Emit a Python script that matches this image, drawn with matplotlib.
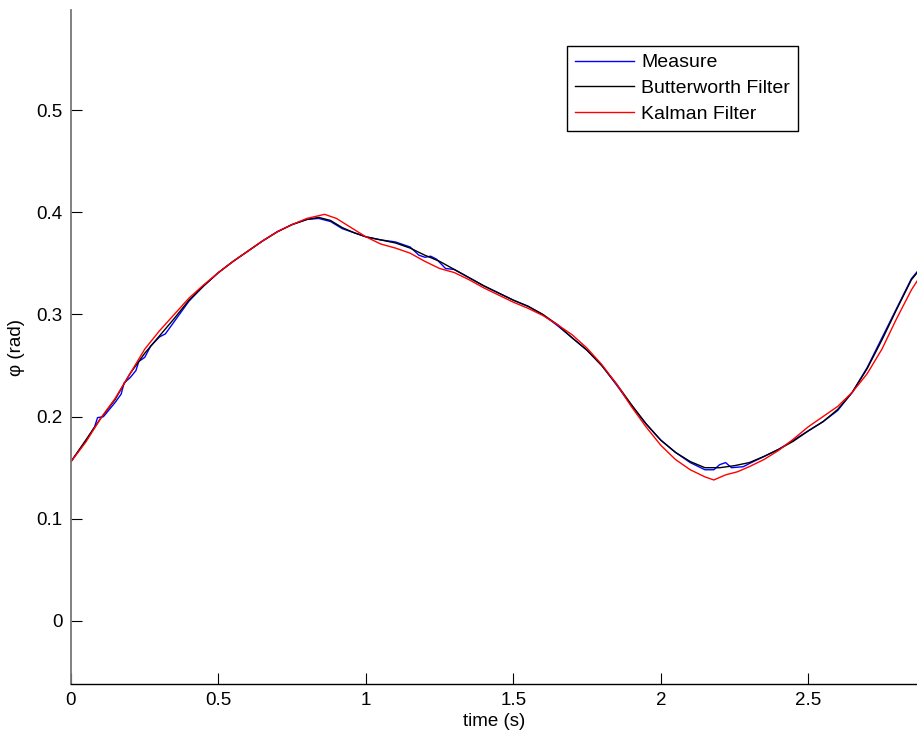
import matplotlib
matplotlib.use("Agg")
import matplotlib.pyplot as plt
import numpy as np

plt.rcParams["font.family"] = ["Liberation Sans", "DejaVu Sans"]

# Butterworth filter (black)
t_butter = [0.00, 0.05, 0.10, 0.15, 0.20, 0.25, 0.30, 0.35, 0.40, 0.45, 0.50, 0.55, 0.60, 0.65,
            0.70, 0.75, 0.80, 0.84, 0.88, 0.92, 0.96, 1.00, 1.05, 1.10, 1.15, 1.20, 1.25, 1.30,
            1.35, 1.40, 1.45, 1.50, 1.55, 1.60, 1.65, 1.70, 1.75, 1.80, 1.85, 1.90, 1.95, 2.00,
            2.05, 2.10, 2.15, 2.20, 2.25, 2.30, 2.35, 2.40, 2.45, 2.50, 2.55, 2.60, 2.65, 2.70,
            2.75, 2.80, 2.85, 2.87]
phi_butter = [0.156, 0.177, 0.198, 0.217, 0.242, 0.262, 0.279, 0.296, 0.314, 0.328, 0.341, 0.352,
              0.362, 0.372, 0.381, 0.388, 0.393, 0.395, 0.392, 0.385, 0.380, 0.376, 0.373, 0.370,
              0.365, 0.358, 0.352, 0.344, 0.336, 0.328, 0.321, 0.314, 0.308, 0.300, 0.290, 0.277,
              0.265, 0.250, 0.232, 0.212, 0.193, 0.177, 0.165, 0.156, 0.150, 0.150, 0.152, 0.155,
              0.161, 0.168, 0.176, 0.186, 0.195, 0.207, 0.224, 0.247, 0.275, 0.305, 0.334, 0.341]

# raw measurement (blue)
t_meas = [0.00, 0.05, 0.08, 0.09, 0.11, 0.15, 0.17, 0.18, 0.20, 0.22, 0.23, 0.25, 0.27, 0.30,
          0.32, 0.35, 0.40, 0.45, 0.50, 0.55, 0.60, 0.65, 0.70, 0.75, 0.80, 0.84, 0.88, 0.92,
          0.96, 1.00, 1.05, 1.10, 1.15, 1.18, 1.20, 1.22, 1.24, 1.27, 1.30, 1.35, 1.40, 1.45,
          1.50, 1.55, 1.60, 1.65, 1.70, 1.75, 1.80, 1.85, 1.90, 1.95, 2.00, 2.05, 2.10, 2.15,
          2.18, 2.20, 2.22, 2.24, 2.28, 2.30, 2.35, 2.40, 2.45, 2.50, 2.55, 2.60, 2.65, 2.70,
          2.75, 2.80, 2.85, 2.87]
phi_meas = [0.156, 0.176, 0.190, 0.199, 0.200, 0.214, 0.222, 0.233, 0.238, 0.245, 0.254, 0.258,
            0.269, 0.278, 0.281, 0.293, 0.313, 0.328, 0.341, 0.352, 0.362, 0.372, 0.381, 0.388,
            0.393, 0.394, 0.391, 0.384, 0.380, 0.376, 0.373, 0.371, 0.366, 0.358, 0.356, 0.357,
            0.354, 0.345, 0.344, 0.336, 0.328, 0.321, 0.314, 0.308, 0.300, 0.289, 0.277, 0.265,
            0.250, 0.231, 0.211, 0.193, 0.177, 0.165, 0.155, 0.148, 0.148, 0.153, 0.155, 0.150,
            0.151, 0.154, 0.161, 0.168, 0.177, 0.186, 0.195, 0.206, 0.224, 0.248, 0.277, 0.306,
            0.335, 0.342]

# Kalman filter (red)
t_kalman = [0.00, 0.05, 0.10, 0.15, 0.20, 0.25, 0.30, 0.35, 0.40, 0.45, 0.50, 0.55, 0.60, 0.65,
            0.70, 0.75, 0.80, 0.86, 0.90, 0.95, 1.00, 1.05, 1.10, 1.15, 1.20, 1.25, 1.30, 1.35,
            1.40, 1.45, 1.50, 1.55, 1.60, 1.65, 1.70, 1.75, 1.80, 1.85, 1.90, 1.95, 2.00, 2.05,
            2.10, 2.15, 2.18, 2.22, 2.26, 2.30, 2.35, 2.40, 2.45, 2.50, 2.55, 2.60, 2.65, 2.70,
            2.75, 2.80, 2.85, 2.87]
phi_kalman = [0.156, 0.175, 0.198, 0.218, 0.242, 0.266, 0.284, 0.300, 0.316, 0.329, 0.341, 0.352,
              0.362, 0.372, 0.381, 0.388, 0.394, 0.398, 0.394, 0.385, 0.376, 0.369, 0.365, 0.360,
              0.352, 0.345, 0.341, 0.334, 0.326, 0.319, 0.312, 0.306, 0.299, 0.290, 0.280, 0.267,
              0.251, 0.232, 0.210, 0.190, 0.172, 0.158, 0.148, 0.141, 0.138, 0.143, 0.146, 0.151,
              0.158, 0.167, 0.178, 0.190, 0.200, 0.210, 0.224, 0.242, 0.266, 0.296, 0.324, 0.333]

fig = plt.figure(figsize=(9.17, 7.40), dpi=100)
ax = fig.add_axes([71 / 917, 56 / 740, 1 - 71 / 917, 674 / 740])

ax.plot(t_meas, phi_meas, color="#0000ff", lw=1.0, label="Measure")
ax.plot(t_butter, phi_butter, color="black", lw=1.0, label="Butterworth Filter")
ax.plot(t_kalman, phi_kalman, color="#ff0000", lw=1.0, label="Kalman Filter")

ax.set_xlim(0, 2.869)
ax.set_ylim(-0.0617, 0.598)
ax.set_xticks([0, 0.5, 1, 1.5, 2, 2.5])
ax.set_xticklabels(["0", "0.5", "1", "1.5", "2", "2.5"])
ax.set_yticks([0, 0.1, 0.2, 0.3, 0.4, 0.5])
ax.set_yticklabels(["0", "0.1", "0.2", "0.3", "0.4", "0.5"])
ax.tick_params(direction="in", length=8, width=0.8, labelsize=13.5, pad=6)

ax.spines["top"].set_visible(False)
ax.spines["right"].set_visible(False)
ax.spines["left"].set_color("#777777")
ax.spines["left"].set_linewidth(1.3)
ax.spines["bottom"].set_linewidth(1.0)

ax.set_xlabel("time (s)", fontsize=13.5, labelpad=3)
ax.set_ylabel("φ (rad)", fontsize=13.5, labelpad=8)

leg = ax.legend(loc="upper left", bbox_to_anchor=(567 / 917, 1 - 46 / 740),
                bbox_transform=fig.transFigure, fontsize=14, fancybox=False,
                framealpha=1, edgecolor="black", handlelength=3.05, handletextpad=0.35,
                labelspacing=0.42, borderpad=0.4, borderaxespad=0)
leg.get_frame().set_linewidth(1.0)

fig.savefig("out.png", dpi=100)
